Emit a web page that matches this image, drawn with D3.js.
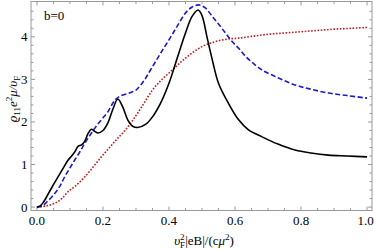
<!DOCTYPE html>
<html>
<head>
<meta charset="utf-8">
<script src="https://cdn.jsdelivr.net/npm/d3@7"></script>
<style>
  body { margin: 0; background: #fff; }
  text { font-family: "Liberation Serif", "DejaVu Serif", serif; }
</style>
</head>
<body>
<div id="chart"></div>
<script>
// curves: [x, y]
const blackSolid = [
  [0, 0], [0.01, 0.03], [0.02, 0.12], [0.03, 0.25], [0.045, 0.46], [0.064, 0.71], [0.08, 0.92],
  [0.094, 1.1], [0.105, 1.2], [0.115, 1.3], [0.125, 1.43], [0.135, 1.46], [0.145, 1.55],
  [0.155, 1.73], [0.165, 1.83], [0.175, 1.78], [0.185, 1.74], [0.2, 1.8], [0.215, 1.98],
  [0.23, 2.3], [0.245, 2.54], [0.26, 2.35], [0.275, 2.05], [0.29, 1.9], [0.305, 1.87],
  [0.33, 1.95], [0.35, 2.12], [0.375, 2.45], [0.4, 2.91], [0.425, 3.5], [0.45, 4.09],
  [0.47, 4.48], [0.488, 4.63], [0.5, 4.5], [0.515, 4.0], [0.53, 3.5], [0.55, 2.91],
  [0.58, 2.44], [0.611, 2.05], [0.64, 1.82], [0.682, 1.65], [0.73, 1.48], [0.782, 1.34],
  [0.83, 1.27], [0.883, 1.22], [0.94, 1.2], [1.0, 1.18]
];
const blueDashed = [
  [0, 0], [0.014, 0.02], [0.03, 0.12], [0.054, 0.32], [0.07, 0.5], [0.084, 0.71], [0.1, 0.92],
  [0.114, 1.1], [0.13, 1.3], [0.145, 1.5], [0.16, 1.68], [0.175, 1.85], [0.195, 2.05],
  [0.215, 2.24], [0.235, 2.5], [0.25, 2.6], [0.28, 2.68], [0.3, 2.75], [0.325, 2.98],
  [0.35, 3.3], [0.375, 3.62], [0.4, 3.93], [0.425, 4.25], [0.45, 4.56], [0.47, 4.7],
  [0.49, 4.75], [0.51, 4.68], [0.531, 4.48], [0.55, 4.3], [0.571, 4.09], [0.59, 3.9],
  [0.611, 3.73], [0.632, 3.54], [0.655, 3.38], [0.682, 3.22], [0.73, 3.04], [0.782, 2.87],
  [0.83, 2.77], [0.883, 2.68], [0.94, 2.62], [1.0, 2.56]
];
const redDotted = [
  [0, 0], [0.03, 0.03], [0.054, 0.09], [0.075, 0.2], [0.094, 0.36], [0.12, 0.52], [0.145, 0.71],
  [0.17, 0.94], [0.195, 1.18], [0.22, 1.4], [0.245, 1.62], [0.27, 1.83], [0.3, 2.15],
  [0.325, 2.45], [0.35, 2.75], [0.375, 2.97], [0.4, 3.15], [0.425, 3.33], [0.45, 3.5],
  [0.475, 3.65], [0.5, 3.77], [0.525, 3.85], [0.551, 3.91], [0.581, 3.95], [0.611, 3.97],
  [0.65, 4.01], [0.7, 4.06], [0.75, 4.09], [0.8, 4.12], [0.85, 4.15], [0.9, 4.18],
  [0.95, 4.2], [1.0, 4.22]
];
const xTicks = [0, 0.2, 0.4, 0.6, 0.8, 1.0];
const yTicks = [0, 1, 2, 3, 4];

const width = 374, height = 249;
const mLeft = 31, mRight = 372, mTop = 1.5, mBottom = 210.5;

const svg = d3.select("#chart").append("svg")
  .attr("width", width)
  .attr("height", height);

const x = d3.scaleLinear().domain([-0.018, 1.015]).range([mLeft, mRight]);
const y = d3.scaleLinear().domain([-0.08, 4.83]).range([mBottom, mTop]);

// frame
svg.append("rect")
  .attr("x", mLeft).attr("y", mTop)
  .attr("width", mRight - mLeft).attr("height", mBottom - mTop)
  .attr("fill", "none").attr("stroke", "#999").attr("stroke-width", 1);

// ticks (inward, all four sides)
const xMinor = d3.range(0, 1.0001, 0.05);
const yMinor = d3.range(0, 4.8, 0.2);
const tickG = svg.append("g").attr("stroke", "#999").attr("stroke-width", 1);
xMinor.forEach(v => {
  const major = xTicks.some(t => Math.abs(t - v) < 1e-6);
  const len = major ? 4 : 2.5;
  tickG.append("line").attr("x1", x(v)).attr("x2", x(v)).attr("y1", mBottom).attr("y2", mBottom - len);
  tickG.append("line").attr("x1", x(v)).attr("x2", x(v)).attr("y1", mTop).attr("y2", mTop + len);
});
yMinor.forEach(v => {
  const major = yTicks.some(t => Math.abs(t - v) < 1e-6);
  const len = major ? 4 : 2.5;
  tickG.append("line").attr("y1", y(v)).attr("y2", y(v)).attr("x1", mLeft).attr("x2", mLeft + len);
  tickG.append("line").attr("y1", y(v)).attr("y2", y(v)).attr("x1", mRight).attr("x2", mRight - len);
});

svg.append("g").selectAll("text")
  .data(xTicks).enter().append("text")
  .attr("x", d => Math.min(x(d), width - 8.5)).attr("y", 225)
  .attr("text-anchor", "middle")
  .style("font-size", "13px")
  .text(d => d3.format(".1f")(d));

svg.append("g").selectAll("text")
  .data(yTicks).enter().append("text")
  .attr("x", 27.5).attr("y", d => y(d) + 4.5)
  .attr("text-anchor", "end")
  .style("font-size", "13px")
  .text(d => d);

const line = d3.line()
  .x(d => x(d[0]))
  .y(d => y(d[1]))
  .curve(d3.curveCatmullRom.alpha(0.5));

svg.append("clipPath").attr("id", "clip")
  .append("rect").attr("x", mLeft).attr("y", mTop).attr("width", mRight - mLeft).attr("height", mBottom - mTop);

const plot = svg.append("g").attr("clip-path", "url(#clip)");

plot.append("path").datum(redDotted)
  .attr("d", line).attr("fill", "none")
  .attr("stroke", "#c41a1a").attr("stroke-width", 1.6)
  .attr("stroke-dasharray", "1.6,1.6");

plot.append("path").datum(blueDashed)
  .attr("d", line).attr("fill", "none")
  .attr("stroke", "#1a1acc").attr("stroke-width", 1.6)
  .attr("stroke-dasharray", "5,2.5");

plot.append("path").datum(blackSolid)
  .attr("d", line).attr("fill", "none")
  .attr("stroke", "#000").attr("stroke-width", 1.6);

// panel label
svg.append("text")
  .attr("x", 44).attr("y", 20)
  .style("font-size", "13px")
  .text("b=0");

// y axis label
const yl = svg.append("text")
  .attr("transform", "translate(17,99) rotate(-90)")
  .attr("text-anchor", "middle")
  .style("font-size", "13px");
yl.append("tspan").style("font-style", "italic").text("ϱ");
yl.append("tspan").attr("dy", 3).style("font-size", "9px").text("11");
yl.append("tspan").attr("dy", -3).style("font-style", "italic").text("e");
yl.append("tspan").attr("dy", -5).style("font-size", "9px").text("2");
yl.append("tspan").attr("dy", 5).style("font-style", "italic").text("μ/υ");
yl.append("tspan").attr("dy", 3).style("font-size", "9px").text("F");

// x axis label
const xl = svg.append("text")
  .attr("x", 204).attr("y", 245)
  .attr("text-anchor", "middle")
  .style("font-size", "13px");
xl.append("tspan").style("font-style", "italic").text("υ");
xl.append("tspan").attr("dy", -5).style("font-size", "9px").text("2");
xl.append("tspan").attr("dx", -4.5).attr("dy", 8).style("font-size", "9px").text("F");
xl.append("tspan").attr("dy", -3).text("|eB|/(c");
xl.append("tspan").style("font-style", "italic").text("μ");
xl.append("tspan").attr("dy", -5).style("font-size", "9px").text("2");
xl.append("tspan").attr("dy", 5).text(")");
</script>
</body>
</html>
